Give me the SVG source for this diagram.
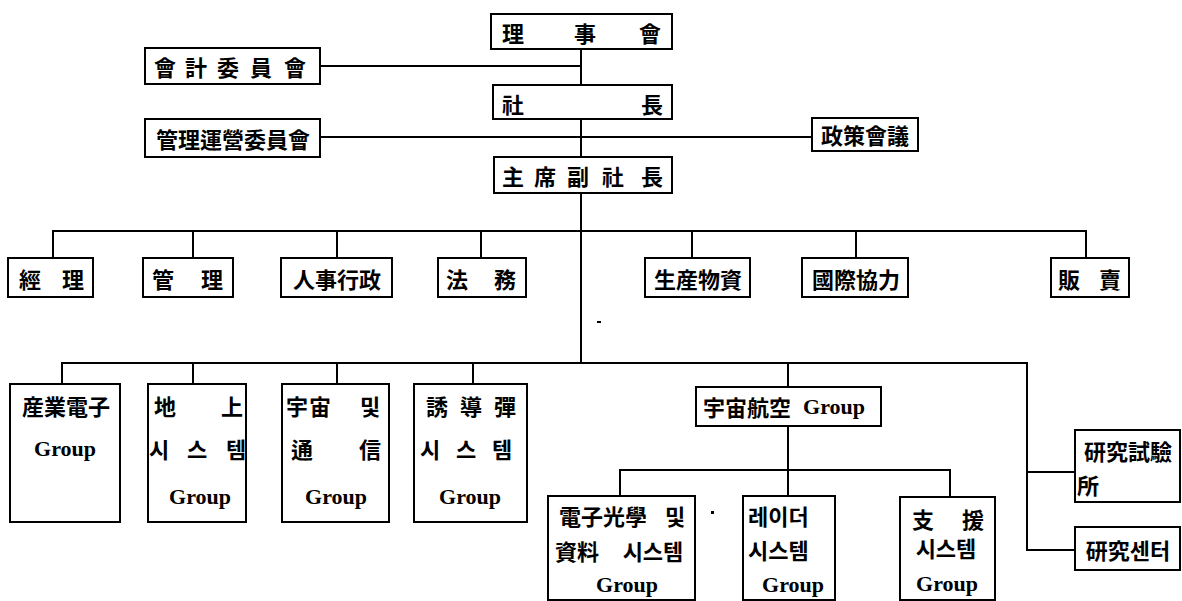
<svg xmlns="http://www.w3.org/2000/svg" width="1182" height="601" viewBox="0 0 1182 601">
<style>
.box{fill:#fff;stroke:#000;stroke-width:2}
.ln{fill:none;stroke:#000;stroke-width:2}
.c{font-family:"Noto Sans CJK KR","Noto Sans CJK TC",sans-serif;font-size:22px;font-weight:bold;text-anchor:middle;dominant-baseline:central;fill:#000}
.s{text-anchor:start}
.g{font-family:"Liberation Serif",serif;font-size:22px;font-weight:bold;text-anchor:middle;dominant-baseline:central;fill:#000}
</style>
<rect width="1182" height="601" fill="#fff"/>
<g id="connectors" class="ln">
<path d="M581 49V363"/>
<path d="M320 66H581"/>
<path d="M320 137H812"/>
<path d="M53 258V231H1086V258"/>
<path d="M193 231V258M337 231V258M481 231V258M692 231V258M856 231V258"/>
<path d="M62 384V363H1027V550H1075"/>
<path d="M193 363V384M337 363V384M473 363V384M788 363V387"/>
<path d="M1027 472H1075"/>
<path d="M788 426V496"/>
<path d="M620 496V470H950V497"/>
</g>
<g id="n-rijihoe"><rect class="box" x="491" y="14" width="181" height="35"/><text class="c" x="513 585 650" y="32">理事會</text></g>
<g id="n-sajang"><rect class="box" x="493" y="85" width="179" height="34"/><text class="c" x="513 652" y="103">社長</text></g>
<g id="n-jusuk"><rect class="box" x="494" y="157" width="178" height="36"/><text class="c" x="513 545 578 613 652" y="175">主席副社長</text></g>
<g id="n-hoegye"><rect class="box" x="145" y="48" width="175" height="36"/><text class="c" x="165 196 228 261 295" y="66">會計委員會</text></g>
<g id="n-gwanri-unyeong"><rect class="box" x="145" y="119" width="175" height="38"/><text class="c" x="233" y="138">管理運營委員會</text></g>
<g id="n-jeongchaek"><rect class="box" x="812" y="118" width="106" height="33"/><text class="c" x="865" y="134">政策會議</text></g>
<g id="n-gyeongri"><rect class="box" x="8" y="258" width="85" height="39"/><text class="c" x="30 73" y="278">經理</text></g>
<g id="n-gwanri"><rect class="box" x="143" y="258" width="90" height="39"/><text class="c" x="163 212" y="278">管理</text></g>
<g id="n-insa"><rect class="box" x="281" y="258" width="111" height="39"/><text class="c" x="337" y="278">人事行政</text></g>
<g id="n-beopmu"><rect class="box" x="438" y="258" width="88" height="39"/><text class="c" x="457 505" y="278">法務</text></g>
<g id="n-saengsan"><rect class="box" x="645" y="258" width="105" height="39"/><text class="c" x="698" y="278">生産物資</text></g>
<g id="n-gukje"><rect class="box" x="802" y="258" width="106" height="39"/><text class="c" x="856" y="278">國際協力</text></g>
<g id="n-panmae"><rect class="box" x="1051" y="258" width="78" height="39"/><text class="c" x="1069 1110" y="278">販賣</text></g>
<g id="n-saneop"><rect class="box" x="10" y="384" width="110" height="138"/><text class="c" x="66" y="405">産業電子</text><text class="g" x="65" y="448">Group</text></g>
<g id="n-jisang"><rect class="box" x="148" y="384" width="98" height="138"/><text class="c" x="165 232" y="405">地上</text><text class="c" x="159 197 236" y="448">시스템</text><text class="g" x="200" y="496">Group</text></g>
<g id="n-ujutongsin"><rect class="box" x="282" y="384" width="107" height="138"/><text class="c" x="297 320 370" y="405">宇宙및</text><text class="c" x="302 370" y="448">通信</text><text class="g" x="336" y="496">Group</text></g>
<g id="n-yudotan"><rect class="box" x="414" y="384" width="113" height="138"/><text class="c" x="437 471 505" y="405">誘導彈</text><text class="c" x="430 466 502" y="448">시스템</text><text class="g" x="470" y="496">Group</text></g>
<g id="n-ujuhanggong"><rect class="box" x="696" y="387" width="185" height="39"/><text class="c" x="747" y="406">宇宙航空</text><text class="g" x="834" y="406">Group</text></g>
<g id="n-jeonja"><rect class="box" x="548" y="496" width="147" height="104"/><text class="c" x="603" y="515">電子光學</text><text class="c" x="675" y="515">및</text><text class="c" x="577" y="550">資料</text><text class="c" x="653" y="550">시스템</text><text class="g" x="627" y="584">Group</text></g>
<g id="n-radar"><rect class="box" x="743" y="496" width="92" height="104"/><text class="c s" x="748" y="515">레이더</text><text class="c s" x="748" y="549">시스템</text><text class="g" x="793" y="584">Group</text></g>
<g id="n-jiwon"><rect class="box" x="900" y="497" width="95" height="103"/><text class="c" x="923 973" y="518">支援</text><text class="c" x="946" y="547">시스템</text><text class="g" x="947" y="583">Group</text></g>
<g id="n-yeongusiheomso"><rect class="box" x="1075" y="430" width="105" height="72"/><text class="c" x="1128" y="450">研究試驗</text><text class="c" x="1088" y="484">所</text></g>
<g id="n-yeongusenteo"><rect class="box" x="1075" y="527" width="105" height="43"/><text class="c" x="1128" y="549">研究센터</text></g>
<rect x="711" y="511" width="3" height="3" fill="#000"/>
<rect x="597" y="321" width="4" height="2" fill="#000"/>
</svg>
